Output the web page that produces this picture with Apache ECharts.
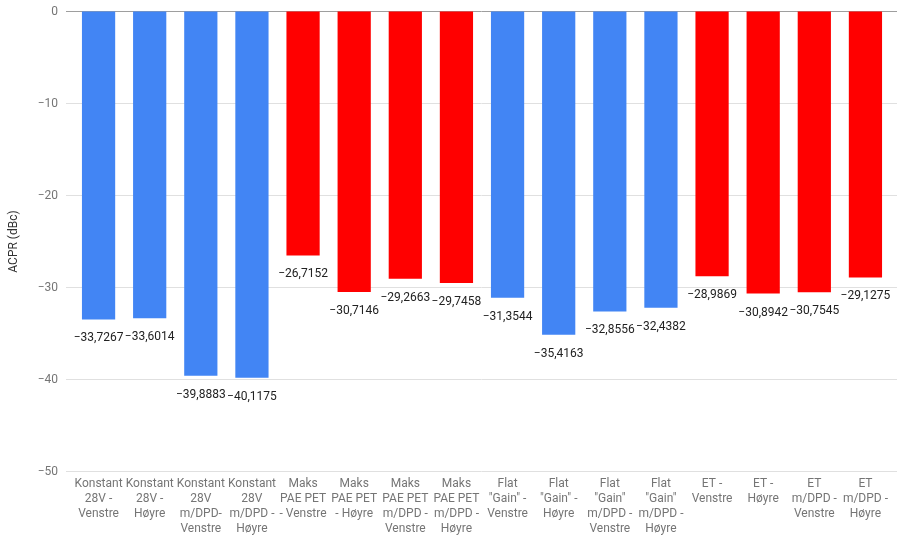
<!DOCTYPE html>
<html>
<head>
<meta charset="utf-8">
<script src="https://cdn.jsdelivr.net/npm/echarts@6/dist/echarts.min.js"></script>
<style>
  html, body { margin: 0; padding: 0; background: #fff; }
  #chart { width: 897px; height: 536px; }
</style>
</head>
<body>
<div id="chart"></div>
<script>
// ACPR per configuration (dBc)
const categories = [
  'Konstant\n28V -\nVenstre', 'Konstant\n28V -\nHøyre',
  'Konstant\n28V\nm/DPD-\nVenstre', 'Konstant\n28V\nm/DPD -\nHøyre',
  'Maks\nPAE PET\n- Venstre', 'Maks\nPAE PET\n- Høyre',
  'Maks\nPAE PET\nm/DPD -\nVenstre', 'Maks\nPAE PET\nm/DPD -\nHøyre',
  'Flat\n"Gain" -\nVenstre', 'Flat\n"Gain" -\nHøyre',
  'Flat\n"Gain"\nm/DPD -\nVenstre', 'Flat\n"Gain"\nm/DPD -\nHøyre',
  'ET -\nVenstre', 'ET -\nHøyre',
  'ET\nm/DPD -\nVenstre', 'ET\nm/DPD -\nHøyre'
];
const acprValues = [
  -33.7267, -33.6014, -39.8883, -40.1175,
  -26.7152, -30.7146, -29.2663, -29.7458,
  -31.3544, -35.4163, -32.8556, -32.4382,
  -28.9869, -30.8942, -30.7545, -29.1275
];
const yTicks = [-50, -40, -30, -20, -10, 0];

// Bar colours: blue/red alternate in blocks of four
const BLUE = '#4285F4', RED = '#FF0000';
const barColors = [
  BLUE, BLUE, BLUE, BLUE, RED, RED, RED, RED,
  BLUE, BLUE, BLUE, BLUE, RED, RED, RED, RED
];

const minus = s => String(s).replace('-', '\u2212');
const fmtValue = v => minus(v.toFixed(4).replace('.', ','));

const chart = echarts.init(document.getElementById('chart'), null, { renderer: 'canvas' });
const font = 'Roboto, Arial, sans-serif';

chart.setOption({
  animation: false,
  grid: [
    { left: 64, right: 0, top: 11.5, bottom: 64.5 },   // gridlines and value labels
    { left: 73, right: 6, top: 11.5, bottom: 64.5 }    // bars and categories
  ],
  xAxis: [
    { type: 'category', gridIndex: 0, data: categories, show: false },
    {
      type: 'category', gridIndex: 1, data: categories,
      axisLine: { show: false }, axisTick: { show: false },
      axisLabel: {
        interval: 0, color: '#757575', fontSize: 12, fontFamily: font,
        lineHeight: 15, margin: 8
      }
    }
  ],
  yAxis: [
    {
      type: 'value', gridIndex: 0, min: yTicks[0], max: yTicks[yTicks.length - 1], interval: 10,
      name: 'ACPR (dBc)', nameLocation: 'middle', nameGap: 46,
      nameTextStyle: { color: '#333', fontSize: 12, fontFamily: font },
      axisLine: { show: false }, axisTick: { show: false },
      axisLabel: { color: '#757575', fontSize: 12, fontFamily: font, margin: 8, formatter: v => minus(v) },
      splitLine: { lineStyle: { color: ['#e0e0e0', '#e0e0e0', '#e0e0e0', '#e0e0e0', '#e0e0e0', '#9e9e9e'], width: 1 } }
    },
    {
      type: 'value', gridIndex: 1, min: yTicks[0], max: yTicks[yTicks.length - 1], interval: 10,
      show: false, splitLine: { show: false }
    }
  ],
  series: [{
    type: 'bar',
    xAxisIndex: 1, yAxisIndex: 1,
    data: acprValues.map((v, i) => ({ value: v, itemStyle: { color: barColors[i] } })),
    barWidth: '65%',
    label: {
      show: true, position: 'bottom', distance: 13,
      color: '#222', fontSize: 12, fontFamily: font,
      formatter: p => fmtValue(p.value)
    }
  }]
});
</script>
</body>
</html>
